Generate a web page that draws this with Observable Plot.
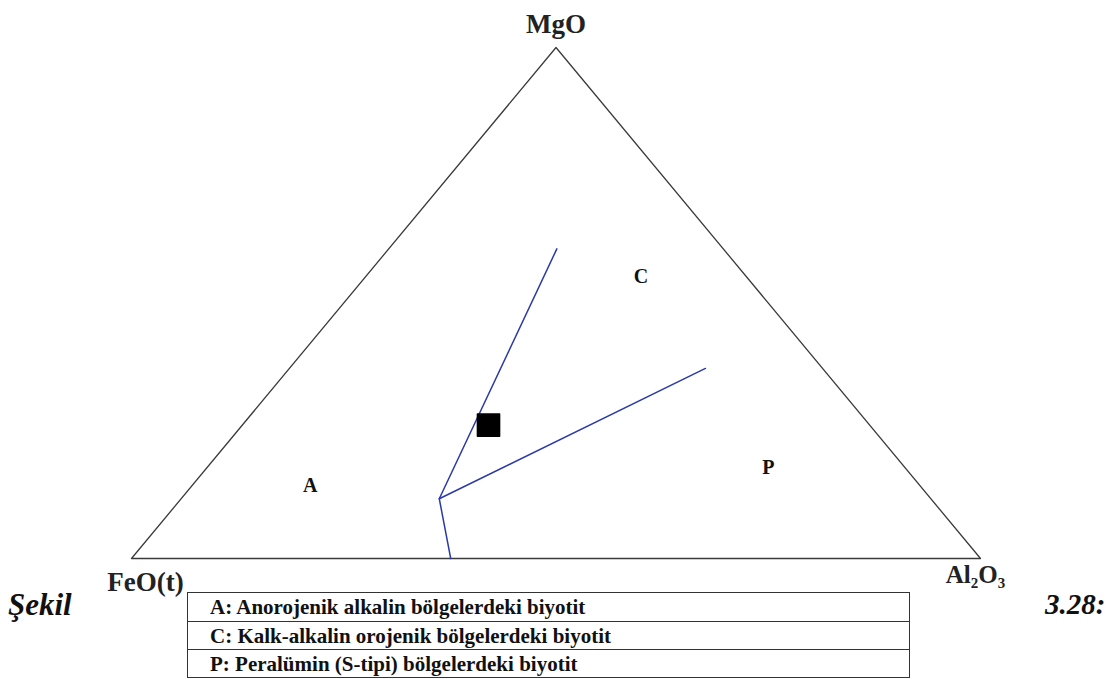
<!DOCTYPE html>
<html>
<head>
<meta charset="utf-8">
<script src="https://cdn.jsdelivr.net/npm/d3@7"></script>
<script src="https://cdn.jsdelivr.net/npm/@observablehq/plot@0.6"></script>
<style>
  html, body { margin: 0; padding: 0; background: #fff; }
  #wrap { position: relative; width: 1115px; height: 679px; overflow: hidden; }
  #chart { position: absolute; left: 0; top: 0; }
  .side { position: absolute; font-family: "Liberation Serif", "Times New Roman", serif; font-weight: bold; font-style: italic; color: #111; line-height: 1; }
  #legend { position: absolute; left: 187px; top: 592px; width: 723px; border: 1.5px solid #333; box-sizing: border-box; font-family: "Liberation Serif", "Times New Roman", serif; font-weight: bold; font-size: 21px; color: #111; }
  #legend div { height: 28px; line-height: 28px; padding-left: 22px; box-sizing: border-box; white-space: nowrap; }
  #legend div + div { border-top: 1.5px solid #333; }
</style>
</head>
<body>
<div id="wrap">
  <div id="chart"></div>
  <div class="side" id="sekil" style="left:8px; top:589px; font-size:31px;"></div>
  <div id="legend"></div>
  <div class="side" id="num" style="left:1045px; top:590px; font-size:29px;"></div>
</div>
<script>
// Vertex labels (order: MgO apex, FeO(t) left, Al2O3 right)
const vertexNames = ["MgO", "FeO(t)", "Al₂O₃"];
// Compositions as [MgO, FeO(t), Al2O3] in percent
const vertexComp = [[100, 0, 0], [0, 100, 0], [0, 0, 100]];
// Discrimination boundaries (blue lines)
const boundaryAC = [[0, 62.4, 37.6], [11.7, 57.9, 30.4], [60.6, 19.6, 19.8]];
const boundaryCP = [[11.7, 57.9, 30.4], [37.2, 13.8, 49.0]];
// Sample point
const sampleComp = [[26.1, 44.9, 29.0]];
// Field labels
const fieldNames = ["A", "C", "P"];
const fieldComp = [[14.3, 71.8, 13.9], [55.2, 12.4, 32.4], [17.8, 16.1, 66.1]];
// Legend rows
const legendRows = [
  "A: Anorojenik alkalin bölgelerdeki biyotit",
  "C: Kalk-alkalin orojenik bölgelerdeki biyotit",
  "P: Peralümin (S-tipi) bölgelerdeki biyotit"
];
const captionLeft = "Şekil";
const captionRight = "3.28:";

// ternary -> cartesian (FeO left, Al2O3 right, MgO top)
function toXY([mg, fe, al]) {
  const s = mg + fe + al;
  return {x: al / s + mg / s / 2, y: mg / s};
}

const tri = [vertexComp[1], vertexComp[2], vertexComp[0], vertexComp[1]].map(toXY);
const ac = boundaryAC.map(toXY);
const cp = boundaryCP.map(toXY);
const sample = sampleComp.map(toXY);
const fields = fieldComp.map((c, i) => ({...toXY(c), name: fieldNames[i]}));
const verts = vertexComp.map((c, i) => ({...toXY(c), name: vertexNames[i]}));

const serif = "Liberation Serif, Times New Roman, serif";

const plot = Plot.plot({
  width: 1115,
  height: 600,
  marginLeft: 131,
  marginRight: 135,
  marginTop: 47,
  marginBottom: 42,
  x: {domain: [0, 1], axis: null},
  y: {domain: [0, 1], axis: null},
  style: {overflow: "visible", background: "transparent"},
  marks: [
    Plot.line(tri, {x: "x", y: "y", stroke: "#3a3a3a", strokeWidth: 1.3}),
    Plot.line(ac, {x: "x", y: "y", stroke: "#2b3aa6", strokeWidth: 1.5}),
    Plot.line(cp, {x: "x", y: "y", stroke: "#2b3aa6", strokeWidth: 1.5}),
    Plot.dot(sample, {x: "x", y: "y", symbol: "square", r: 12.5, fill: "#000", stroke: "#000", strokeWidth: 1.5, strokeLinejoin: "round"}),
    Plot.text(fields, {x: "x", y: "y", text: "name", fontFamily: serif, fontWeight: "bold", fontSize: 20, fill: "#111", textAnchor: "middle", lineAnchor: "middle"}),
    Plot.text([verts[0]], {x: "x", y: "y", text: "name", fontFamily: serif, fontWeight: "bold", fontSize: 27, fill: "#222", textAnchor: "middle", lineAnchor: "bottom", dy: -15}),
    Plot.text([verts[1]], {x: "x", y: "y", text: "name", fontFamily: serif, fontWeight: "bold", fontSize: 27, fill: "#222", textAnchor: "middle", lineAnchor: "bottom", dx: 14, dy: 32}),
    Plot.text([verts[2]], {x: "x", y: "y", text: "name", fontFamily: serif, fontWeight: "bold", fontSize: 25, fill: "#222", textAnchor: "middle", lineAnchor: "bottom", dx: -5, dy: 24})
  ]
});
document.getElementById("chart").appendChild(plot);

const leg = document.getElementById("legend");
legendRows.forEach(t => {
  const d = document.createElement("div");
  d.textContent = t;
  leg.appendChild(d);
});
document.getElementById("sekil").textContent = captionLeft;
document.getElementById("num").textContent = captionRight;
</script>
</body>
</html>
